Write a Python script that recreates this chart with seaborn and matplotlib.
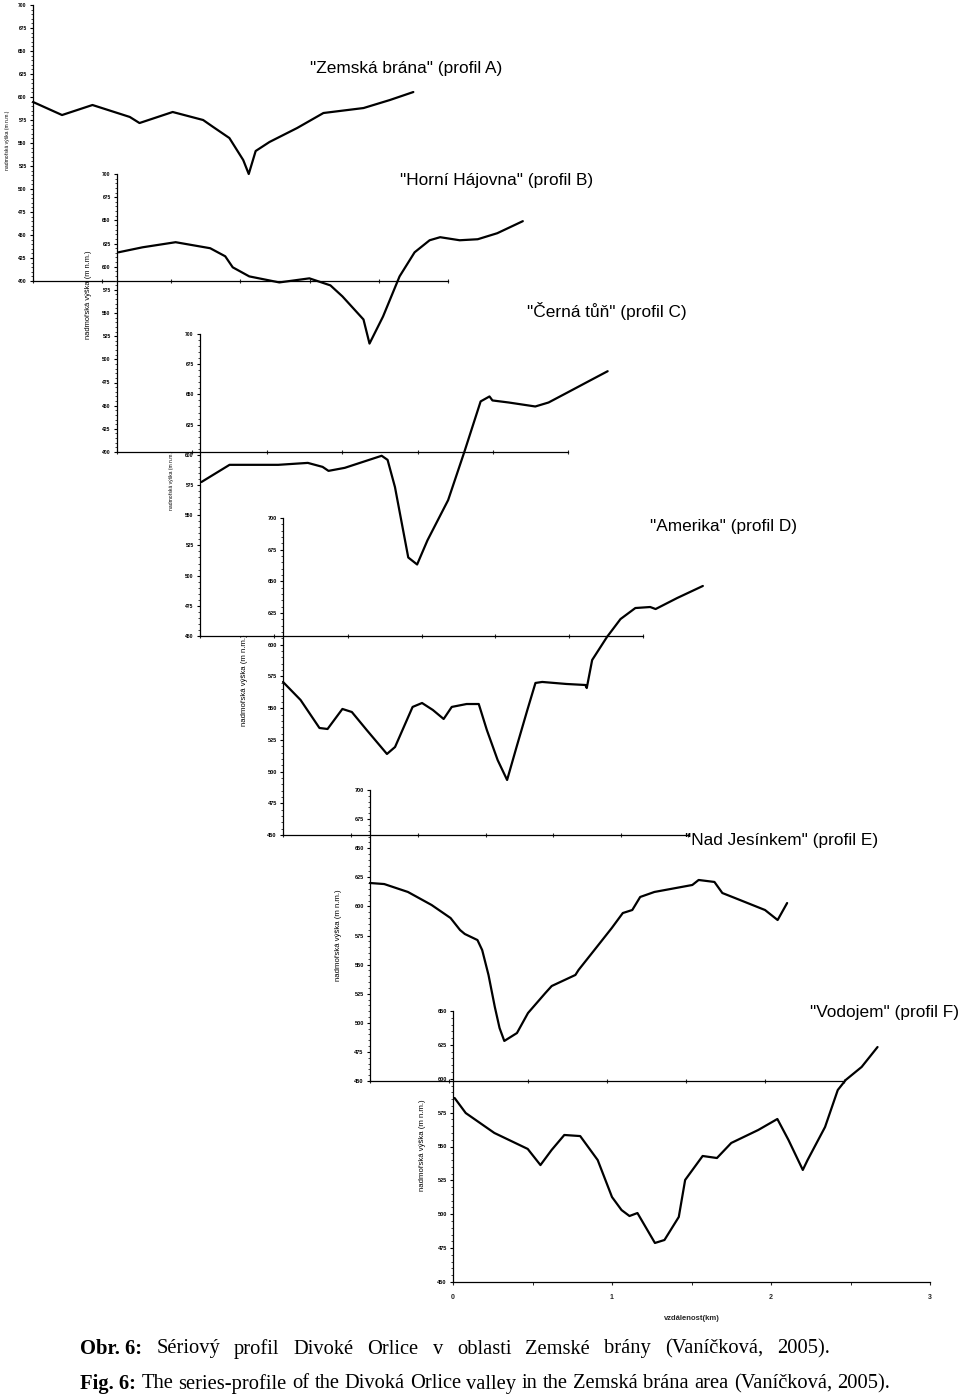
import matplotlib
matplotlib.use("Agg")
import matplotlib.pyplot as plt
import seaborn as sns
import numpy as np
from matplotlib.ticker import MultipleLocator, FixedLocator

# ---------------- data (distance in km, elevation in m a.s.l.) ----------------
a_km = [0, 0.21, 0.43, 0.70, 0.77, 1.01, 1.23, 1.30, 1.42, 1.52, 1.56, 1.61, 1.71, 1.91, 2.10, 2.39, 2.58, 2.75]
a_m = [594.6, 580.4, 591.3, 578.3, 571.7, 583.7, 575.0, 567.7, 555.4, 531.5, 516.3, 541.3, 551.1, 566.3, 582.6, 588.0, 596.7, 605.4]

b_km = [0.01, 0.17, 0.39, 0.62, 0.72, 0.77, 0.88, 1.08, 1.28, 1.42, 1.50, 1.64, 1.68, 1.77, 1.88, 1.98, 2.08, 2.15, 2.28, 2.40, 2.53, 2.70]
b_m = [615.5, 620.9, 626.4, 619.9, 611.2, 599.3, 589.5, 583.0, 587.4, 579.8, 567.9, 543.0, 517.0, 546.2, 589.5, 615.5, 628.5, 631.8, 628.5, 629.6, 636.1, 649.1]

c_km = [0.01, 0.20, 0.53, 0.73, 0.83, 0.87, 0.98, 1.23, 1.27, 1.32, 1.41, 1.47, 1.54, 1.68, 1.79, 1.90, 1.96, 1.98, 2.09, 2.27, 2.36, 2.49, 2.63, 2.76]
c_m = [577.5, 591.7, 591.7, 593.3, 590.0, 586.7, 589.2, 599.2, 595.8, 573.3, 515.0, 509.2, 529.2, 562.5, 602.5, 644.2, 648.3, 645.0, 643.3, 640.0, 643.3, 651.7, 660.8, 669.2]

d_km = [0, 0.13, 0.27, 0.33, 0.44, 0.51, 0.62, 0.77, 0.83, 0.96, 1.03, 1.11, 1.19, 1.25, 1.36, 1.45, 1.51, 1.59, 1.66,
        1.73, 1.81, 1.87, 1.92, 2.10, 2.24, 2.25, 2.29, 2.40, 2.50, 2.61, 2.72, 2.76, 2.92, 3.11]
d_m = [570.7, 556.5, 534.4, 533.6, 549.4, 547.0, 532.8, 513.9, 519.4, 551.0, 554.1, 548.6, 541.5, 551.0, 553.3, 553.3, 532.8,
       509.1, 493.4, 519.4, 548.6, 569.9, 570.7, 569.1, 568.3, 565.9, 588.0, 606.2, 620.3, 629.0, 629.8, 628.2, 636.9, 646.4]

e_km = [0, 0.09, 0.24, 0.39, 0.51, 0.57, 0.60, 0.68, 0.71, 0.75, 0.79, 0.82, 0.85, 0.93, 1.00, 1.11, 1.15, 1.30, 1.32,
        1.42, 1.53, 1.60, 1.66, 1.71, 1.80, 2.04, 2.08, 2.18, 2.23, 2.31, 2.50, 2.58, 2.64]
e_m = [620.1, 619.2, 612.4, 601.2, 590.0, 579.7, 576.3, 571.1, 562.5, 541.1, 513.6, 495.5, 484.4, 491.2, 508.4, 525.6,
       531.6, 541.1, 545.4, 562.5, 581.4, 594.3, 596.9, 608.1, 612.4, 618.4, 622.7, 621.0, 611.5, 607.2, 596.9, 588.3, 602.9]

f_km = [0.01, 0.08, 0.26, 0.47, 0.55, 0.62, 0.70, 0.80, 0.91, 1.00, 1.06, 1.11, 1.16, 1.27, 1.33, 1.42, 1.46, 1.57,
        1.66, 1.75, 1.92, 2.04, 2.11, 2.20, 2.23, 2.34, 2.42, 2.47, 2.57, 2.67]
f_m = [585.8, 574.7, 560.0, 548.2, 536.3, 547.4, 558.5, 557.7, 540.0, 512.7, 503.1, 498.7, 500.9, 478.8, 481.0, 498.0,
       525.3, 543.0, 541.5, 552.6, 562.2, 570.3, 554.8, 532.7, 540.0, 564.4, 591.7, 599.1, 608.7, 623.4]

titles = ['"Zemská brána" (profil A)', '"Horní Hájovna" (profil B)', '"Černá tůň" (profil C)',
          '"Amerika" (profil D)', '"Nad Jesínkem" (profil E)', '"Vodojem" (profil F)']
y_label = "nadmořská výška (m n.m.)"
x_label = "vzdálenost(km)"
x_ticks = [0, 1, 2, 3]
caption_cz_bold = "Obr. 6:"
caption_cz = "Sériový profil Divoké Orlice v oblasti Zemské brány (Vaníčková, 2005)."
caption_en_bold = "Fig. 6:"
caption_en = "The series-profile of the Divoká Orlice valley in the Zemská brána area (Vaníčková, 2005)."

series = [(a_km, a_m), (b_km, b_m), (c_km, c_m), (d_km, d_m), (e_km, e_m), (f_km, f_m)]

# ---------------- layout (pixels) ----------------
W, H = 960, 1395
# axis x pixel, top y pixel, bottom y pixel, ymin, ymax, px per km
panels = [
    (33, 5, 281, 400, 700, 138.3),
    (117, 174, 452, 400, 700, 150.3),
    (200, 334, 636, 450, 700, 147.7),
    (283, 518, 835, 450, 700, 135.0),
    (370, 790, 1081, 450, 700, 158.0),
    (453, 1011, 1282, 450, 650, 159.0),
]
title_pos = [(310, 68), (400, 181), (527, 311), (650, 527), (685, 840), (810, 1012)]
ylab_pos = [(8, 140), (88, 295), (171, 480), (245, 680), (339, 935), (423, 1145)]
tick_fs = [3.6, 3.6, 3.6, 4.0, 4.0, 4.0]
ylab_fs = [3.6, 5.4, 3.6, 5.6, 5.6, 5.6]

sns.set_theme(style="white")
plt.rcParams['font.family'] = ['Liberation Sans', 'DejaVu Sans']

fig = plt.figure(figsize=(W / 100, H / 100), dpi=100)


def fx(px):
    return px / W


def fy(py):
    return 1 - py / H


for i, ((xk, ym), (x0, yt, yb, ymin, ymax, sc)) in enumerate(zip(series, panels)):
    wpx = 3 * sc
    ax = fig.add_axes([fx(x0), fy(yb), wpx / W, (yb - yt) / H])
    ax.patch.set_alpha(0)
    sns.lineplot(x=xk, y=ym, ax=ax, color="black", linewidth=1.6, estimator=None, sort=False)
    for ln in ax.lines:
        ln.set_clip_on(False)
    ax.set_xlim(0, 3)
    ax.set_ylim(ymin, ymax)
    for s in ["top", "right"]:
        ax.spines[s].set_visible(False)
    ax.spines["left"].set_color("black")
    ax.spines["left"].set_linewidth(0.9)
    ax.spines["bottom"].set_color("black")
    ax.spines["bottom"].set_linewidth(0.9)
    ax.yaxis.set_major_locator(MultipleLocator(25))
    ax.yaxis.set_minor_locator(MultipleLocator(5))
    ax.tick_params(axis="y", which="major", direction="out", length=2.5, width=0.8, pad=2,
                   labelsize=tick_fs[i], left=True, colors="black")
    ax.tick_params(axis="y", which="minor", direction="out", length=1.2, width=0.6, left=True)
    ax.set_ylabel("")
    ax.set_xlabel("")
    if i < 5:
        ax.xaxis.set_major_locator(MultipleLocator(0.5))
        ax.tick_params(axis="x", which="major", direction="inout", length=3, width=0.8,
                       labelbottom=False, bottom=True)
    else:
        ax.xaxis.set_major_locator(FixedLocator(x_ticks))
        ax.xaxis.set_minor_locator(MultipleLocator(0.5))
        ax.set_xticklabels([str(t) for t in x_ticks])
        ax.tick_params(axis="x", which="major", direction="out", length=2.5, width=0.8, pad=6,
                       labelsize=5, bottom=True)
        ax.tick_params(axis="x", which="minor", direction="out", length=2, width=0.7, bottom=True)
        for lab in ax.get_xticklabels():
            lab.set_fontweight("bold")
    for lab in ax.get_yticklabels():
        lab.set_fontweight("bold")
    tx, ty = title_pos[i]
    fig.text(fx(tx), fy(ty), titles[i], fontsize=12.4, ha="left", va="center", color="black")
    lx, ly = ylab_pos[i]
    fig.text(fx(lx), fy(ly), y_label, fontsize=ylab_fs[i], rotation=90, ha="center", va="center",
             color="black")

fig.text(fx(692), fy(1318), x_label, fontsize=5.5, fontweight="bold", ha="center", va="center")

# captions: bold prefix + normal words, justified between x_start and x_end
serif = ['Liberation Serif', 'DejaVu Serif']
fig.canvas.draw()
renderer = fig.canvas.get_renderer()
for (bold, rest, py, x_end) in [(caption_cz_bold, caption_cz, 1349, 830),
                                (caption_en_bold, caption_en, 1384, 890)]:
    words = [(bold, "bold")] + [(w, "normal") for w in rest.split(" ")]
    objs = []
    total = 0.0
    for w, wt in words:
        t = fig.text(0, fy(py), w, fontsize=14.8, fontweight=wt, family=serif,
                     ha="left", va="center", color="black")
        wd = t.get_window_extent(renderer=renderer).width
        objs.append((t, wd))
        total += wd
    gap = (x_end - 80 - total) / (len(objs) - 1)
    x = 80.0
    for t, wd in objs:
        t.set_x(x / W)
        x += wd + gap

fig.savefig("out.png", dpi=100, facecolor="white")
